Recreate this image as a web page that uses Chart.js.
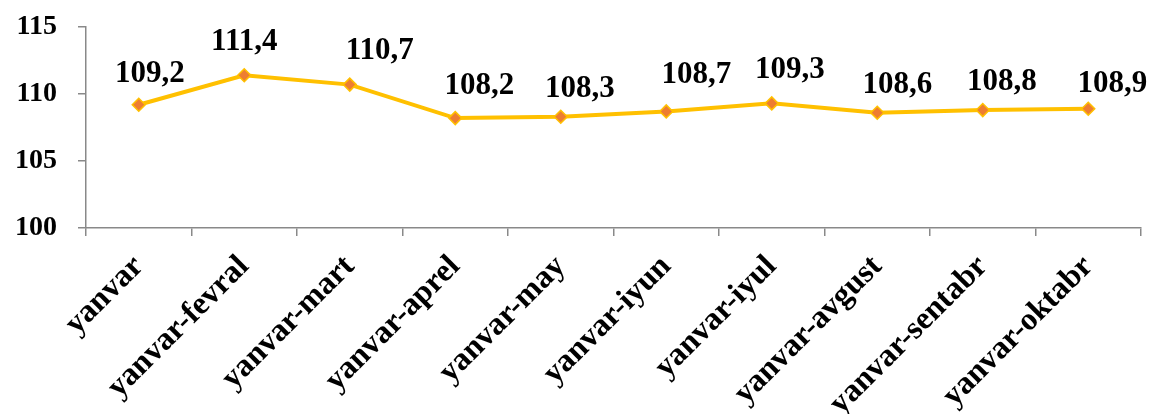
<!DOCTYPE html>
<html>
<head>
<meta charset="utf-8">
<script src="https://cdn.jsdelivr.net/npm/chart.js@4"></script>
<style>
  html, body { margin: 0; padding: 0; background: #fff; }
  #wrap { width: 1150px; height: 414px; position: relative; }
</style>
</head>
<body>
<div id="wrap"><canvas id="c"></canvas></div>
<script>
const categories = ['yanvar', 'yanvar-fevral', 'yanvar-mart', 'yanvar-aprel', 'yanvar-may',
  'yanvar-iyun', 'yanvar-iyul', 'yanvar-avgust', 'yanvar-sentabr', 'yanvar-oktabr'];
const values = [109.2, 111.4, 110.7, 108.2, 108.3, 108.7, 109.3, 108.6, 108.8, 108.9];
const yTicks = [100, 105, 110, 115];

const labelDx = [11, 0, 30, 24, 19, 30, 18, 20, 19, 24];
const labelDy = [31, 33, 34, 32, 28, 36, 33, 28, 28, 25];

const valueLabels = {
  id: 'valueLabels',
  afterDatasetsDraw(chart) {
    const ctx = chart.ctx;
    const meta = chart.getDatasetMeta(0);
    ctx.save();
    ctx.font = 'bold 31px "Liberation Serif", "Times New Roman", serif';
    ctx.fillStyle = '#000';
    ctx.textAlign = 'center';
    ctx.textBaseline = 'middle';
    meta.data.forEach((pt, i) => {
      const txt = values[i].toFixed(1).replace('.', ',');
      ctx.fillText(txt, pt.x + labelDx[i], pt.y - labelDy[i]);
    });
    ctx.restore();
  }
};

new Chart(document.getElementById('c'), {
  type: 'line',
  data: {
    labels: categories,
    datasets: [{
      data: values,
      borderColor: '#FFC000',
      borderWidth: 4,
      pointStyle: 'rectRot',
      pointRadius: 6.5,
      pointBackgroundColor: '#ED7D31',
      pointBorderColor: '#FFC000',
      pointBorderWidth: 1.5,
      tension: 0
    }]
  },
  options: {
    responsive: true,
    maintainAspectRatio: false,
    animation: false,
    layout: { padding: { top: 27, right: 9, left: 0, bottom: 0 } },
    plugins: { legend: { display: false }, tooltip: { enabled: false } },
    scales: {
      x: {
        offset: true,
        grid: { offset: true, drawOnChartArea: false, drawTicks: true, tickLength: 8, color: '#898989', lineWidth: 1.5 },
        border: { color: '#898989', width: 1.5 },
        ticks: {
          autoSkip: false, maxRotation: 45, minRotation: 45, padding: 12,
          color: '#000',
          font: { family: '"Liberation Serif", "Times New Roman", serif', size: 32, weight: 'bold' }
        },
        afterFit(scale) { scale.height = 186; scale.paddingTop = 0; scale.paddingBottom = 0; }
      },
      y: {
        min: 100, max: 115,
        afterBuildTicks(scale) { scale.ticks = yTicks.map(v => ({ value: v })); },
        grid: { drawOnChartArea: false, drawTicks: true, tickLength: 8, color: '#898989', lineWidth: 1.5 },
        border: { color: '#898989', width: 1.5 },
        ticks: {
          padding: 21, color: '#000',
          font: { family: '"Liberation Serif", "Times New Roman", serif', size: 28, weight: 'bold' }
        },
        afterFit(scale) { scale.width = 86; scale.paddingTop = 0; scale.paddingBottom = 0; }
      }
    }
  },
  plugins: [valueLabels]
});
</script>
</body>
</html>
